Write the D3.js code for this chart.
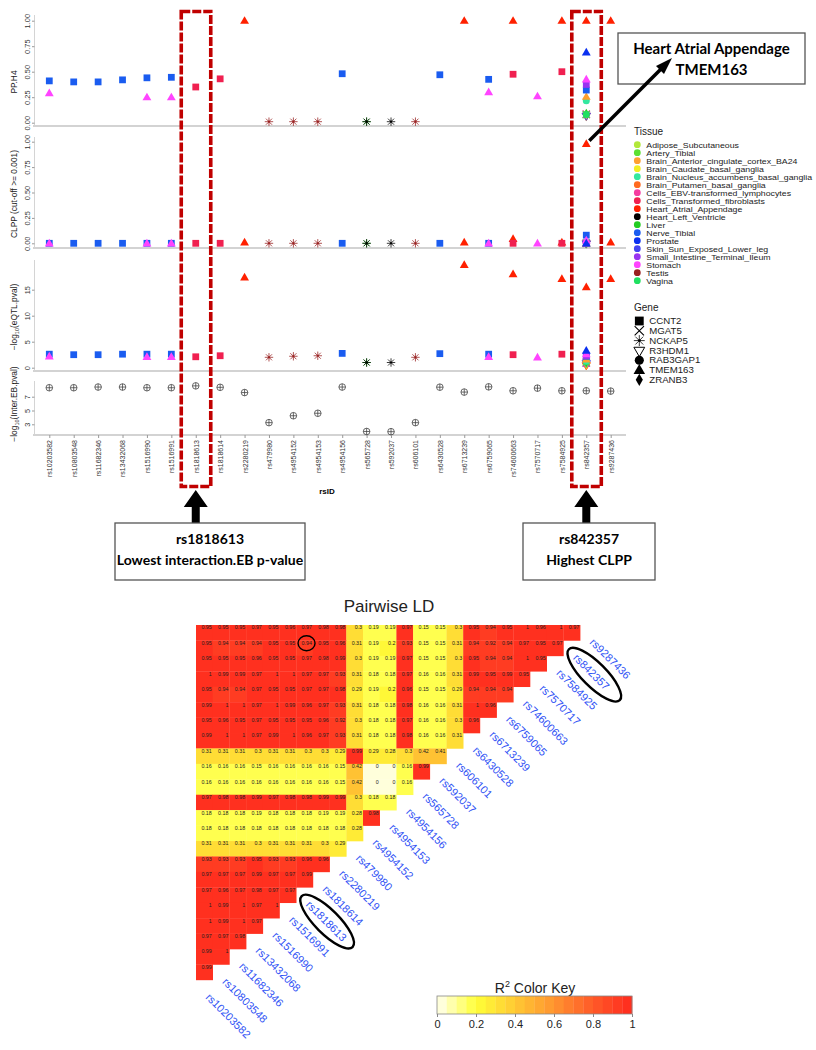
<!DOCTYPE html>
<html>
<head>
<meta charset="utf-8">
<script src="https://cdn.jsdelivr.net/npm/d3@7"></script>
<style>
body { margin: 0; background: #fff; }
text { font-family: "Liberation Sans", Arial, sans-serif; }
.note { font-family: Lato, "Open Sans", sans-serif; font-weight: bold; }
</style>
</head>
<body>
<svg id="chart" width="816" height="1050"></svg>
<script>
// ---- data ----
const snps = ["rs10203582","rs10803548","rs11682346","rs13432068","rs1516990","rs1516991",
  "rs1818613","rs1818614","rs2280219","rs479980","rs4954152","rs4954153","rs4954156",
  "rs565728","rs592037","rs606101","rs6430528","rs6713239","rs6759065","rs74600663",
  "rs7570717","rs7584925","rs842357","rs9287436"];

// -log10(Inter.EB.pval), one per SNP
const interEB = [8.3,8.3,8.4,8.4,8.3,8.3,8.57,8.36,7.6,3.24,4.24,4.6,8.4,1.96,1.93,
  3.24,8.38,7.67,8.43,7.86,8.24,7.86,7.86,7.81];

const tissues = ["Adipose_Subcutaneous","Artery_Tibial","Brain_Anterior_cingulate_cortex_BA24",
  "Brain_Caudate_basal_ganglia","Brain_Nucleus_accumbens_basal_ganglia","Brain_Putamen_basal_ganglia",
  "Cells_EBV-transformed_lymphocytes","Cells_Transformed_fibroblasts","Heart_Atrial_Appendage",
  "Heart_Left_Ventricle","Liver","Nerve_Tibial","Prostate","Skin_Sun_Exposed_Lower_leg",
  "Small_Intestine_Terminal_Ileum","Stomach","Testis","Vagina"];
const tissueColors = ["#b2e83a","#5ce032","#ffa030","#f2ee22","#33e8a0","#ff6a20",
  "#f53ca0","#f02050","#ff2000","#000000","#22cc22","#1a5cf0","#0a30f0","#4444f0",
  "#9933f0","#ff44ff","#992020","#20e060"];

const genes = ["CCNT2","MGAT5","NCKAP5","R3HDM1","RAB3GAP1","TMEM163","ZRANB3"];

// colocalisation results (one entry per SNP / tissue / gene)
const ptSnp = ["rs10203582","rs10203582","rs10803548","rs11682346","rs13432068","rs1516990","rs1516990",
  "rs1516991","rs1516991","rs1818613","rs1818614","rs2280219","rs479980","rs4954152","rs4954153",
  "rs4954156","rs565728","rs565728","rs592037","rs606101","rs6430528","rs6713239","rs6759065",
  "rs6759065","rs74600663","rs74600663","rs7570717","rs7584925","rs7584925","rs9287436",
  "rs842357","rs842357","rs842357","rs842357","rs842357","rs842357","rs842357","rs842357",
  "rs842357","rs842357","rs842357","rs842357","rs842357","rs842357","rs842357","rs842357"];
const ptTissue = ["Nerve_Tibial","Stomach","Nerve_Tibial","Nerve_Tibial","Nerve_Tibial","Nerve_Tibial","Stomach",
  "Nerve_Tibial","Stomach","Cells_Transformed_fibroblasts","Cells_Transformed_fibroblasts","Heart_Atrial_Appendage",
  "Testis","Testis","Testis","Nerve_Tibial","Liver","Heart_Left_Ventricle","Heart_Left_Ventricle","Testis",
  "Nerve_Tibial","Heart_Atrial_Appendage","Nerve_Tibial","Stomach","Heart_Atrial_Appendage",
  "Cells_Transformed_fibroblasts","Stomach","Heart_Atrial_Appendage","Cells_Transformed_fibroblasts",
  "Heart_Atrial_Appendage",
  "Brain_Caudate_basal_ganglia","Brain_Putamen_basal_ganglia","Skin_Sun_Exposed_Lower_leg",
  "Cells_EBV-transformed_lymphocytes","Small_Intestine_Terminal_Ileum","Artery_Tibial","Adipose_Subcutaneous",
  "Liver","Vagina","Brain_Nucleus_accumbens_basal_ganglia","Brain_Anterior_cingulate_cortex_BA24",
  "Nerve_Tibial","Small_Intestine_Terminal_Ileum","Stomach","Prostate","Heart_Atrial_Appendage"];
const ptGene = ["CCNT2","TMEM163","CCNT2","CCNT2","CCNT2","CCNT2","TMEM163","CCNT2","TMEM163","CCNT2",
  "CCNT2","TMEM163","NCKAP5","NCKAP5","NCKAP5","CCNT2","NCKAP5","NCKAP5","NCKAP5","NCKAP5","CCNT2",
  "TMEM163","CCNT2","TMEM163","TMEM163","CCNT2","TMEM163","TMEM163","CCNT2","TMEM163",
  "ZRANB3","R3HDM1","R3HDM1","MGAT5","MGAT5","MGAT5","ZRANB3","ZRANB3","RAB3GAP1","RAB3GAP1",
  "TMEM163","CCNT2","CCNT2","TMEM163","TMEM163","TMEM163"];
const ptPPH4 = [0.41,0.29,0.40,0.40,0.42,0.44,0.25,0.445,0.25,0.35,0.43,1.0,0.01,0.01,0.01,0.48,0.01,
  0.01,0.01,0.01,0.47,1.0,0.425,0.30,1.0,0.475,0.26,1.0,0.50,1.0,
  0.06,0.07,0.07,0.085,0.08,0.08,0.085,0.09,0.08,0.215,0.255,0.32,0.375,0.425,0.69,1.0];
const ptCLPP = [0,0,0,0,0,0,0,0,0,0,0,0.01,0,0,0,0,0,0,0,0,0,0.01,0,0,0.045,0,0,0.01,0,0.01,
  0,0,0,0,0,0,0,0,0.01,0,0,0.08,0,0.03,0,0.98];
const ptEQTL = [2.6,2.2,2.5,2.5,2.6,2.6,2.1,2.6,2.1,2.1,2.3,17.4,2.0,2.2,2.3,2.75,1.0,1.0,1.0,2.0,
  2.7,19.8,2.6,2.1,18.0,2.5,2.0,17.1,2.6,17.1,
  0.4,0.5,0.9,0.9,0.9,1.1,0.8,1.0,1.2,1.3,1.6,2.2,2.3,2.6,3.3,15.5];

const ppTicks = [0, 0.25, 0.5, 0.75, 1];
const clppTicks = [0, 0.25, 0.5, 0.75, 1];
const eqtlTicks = [0, 5, 10, 15];
const ebTicks = [3, 5, 7];

// pairwise LD (r^2), top row = rs9287436 vs rs10203582..rs842357, bottom row = rs10803548 vs rs10203582
const ldRows = [
  [0.95,0.95,0.95,0.97,0.95,0.96,0.97,0.98,0.98,0.3,0.19,0.19,0.97,0.15,0.15,0.3,0.95,0.94,0.95,1,0.96,1,0.97],
  [0.95,0.94,0.94,0.94,0.95,0.95,0.94,0.95,0.96,0.31,0.19,0.2,0.93,0.15,0.15,0.31,0.94,0.92,0.94,0.97,0.95,0.97],
  [0.95,0.95,0.95,0.96,0.95,0.95,0.97,0.98,0.99,0.3,0.19,0.19,0.97,0.15,0.15,0.3,0.95,0.94,0.94,1,0.95],
  [1,0.99,0.99,0.97,1,1,0.97,0.97,0.93,0.31,0.18,0.18,0.97,0.16,0.16,0.31,0.99,0.95,0.99,0.95],
  [0.95,0.94,0.94,0.97,0.95,0.95,0.97,0.97,0.98,0.29,0.19,0.2,0.96,0.15,0.15,0.29,0.94,0.94,0.94],
  [0.99,1,1,0.97,1,0.99,0.96,0.97,0.93,0.31,0.18,0.18,0.98,0.16,0.16,0.31,1,0.96],
  [0.95,0.96,0.95,0.97,0.95,0.95,0.95,0.96,0.92,0.3,0.18,0.18,0.97,0.16,0.16,0.3,0.96],
  [0.99,1,1,0.97,0.99,1,0.96,0.97,0.93,0.31,0.18,0.18,0.98,0.16,0.16,0.31],
  [0.31,0.31,0.31,0.3,0.31,0.31,0.3,0.3,0.29,0.99,0.29,0.28,0.3,0.42,0.41],
  [0.16,0.16,0.16,0.15,0.16,0.16,0.16,0.16,0.15,0.42,0,0,0.16,0.99],
  [0.16,0.16,0.16,0.16,0.16,0.16,0.16,0.16,0.15,0.42,0,0,0.16],
  [0.97,0.98,0.98,0.99,0.97,0.98,0.98,0.99,0.99,0.3,0.18,0.18],
  [0.18,0.18,0.18,0.19,0.18,0.18,0.18,0.19,0.19,0.28,0.98],
  [0.18,0.18,0.18,0.18,0.18,0.18,0.18,0.18,0.18,0.28],
  [0.31,0.31,0.31,0.3,0.31,0.31,0.31,0.3,0.29],
  [0.93,0.93,0.93,0.95,0.93,0.93,0.96,0.96],
  [0.97,0.97,0.97,0.99,0.97,0.97,0.99],
  [0.97,0.96,0.97,0.98,0.97,0.97],
  [1,0.99,1,0.97,1],
  [1,0.99,1,0.97],
  [0.97,0.97,0.98],
  [0.99,1],
  [0.99]
];
const keyTicks = [0, 0.2, 0.4, 0.6, 0.8, 1];

// ---- drawing ----
const svg = d3.select('#chart');
const color = d3.scaleOrdinal().domain(tissues).range(tissueColors);
const x = d3.scalePoint().domain(snps).range([49.3, 610.7]);

const pts = ptSnp.map((s, i) => ({snp: s, tissue: ptTissue[i], gene: ptGene[i],
  pp: ptPPH4[i], clpp: ptCLPP[i], eqtl: ptEQTL[i]}));

// draws one gene symbol at the origin of g
function shape(g, gene, col, k) {
  k = k || 1;
  if (gene === 'CCNT2') {
    g.append('path').attr('d', d3.symbol(d3.symbolSquare, 46 * k * k)).attr('fill', col);
  } else if (gene === 'TMEM163') {
    g.append('path').attr('d', d3.symbol(d3.symbolTriangle, 34 * k * k)).attr('fill', col)
      .attr('transform', 'translate(0,0.6)');
  } else if (gene === 'RAB3GAP1') {
    g.append('circle').attr('r', 3.5 * k).attr('fill', col);
  } else if (gene === 'ZRANB3') {
    g.append('path').attr('d', d3.symbol(d3.symbolDiamond, 26 * k * k)).attr('fill', col);
  } else if (gene === 'R3HDM1') {
    g.append('path').attr('d', d3.symbol(d3.symbolTriangle, 30 * k * k)).attr('fill', 'none')
      .attr('stroke', col).attr('stroke-width', 1).attr('transform', 'rotate(180)');
  } else if (gene === 'MGAT5') {
    const r = 3.6 * k;
    g.append('path').attr('d', `M${-r},${-r}L${r},${r}M${-r},${r}L${r},${-r}`)
      .attr('stroke', col).attr('stroke-width', 1.1);
  } else if (gene === 'NCKAP5') {
    const r = 4.2 * k, q = r * 0.72;
    g.append('path').attr('d', `M${-r},0L${r},0M0,${-r}L0,${r}M${-q},${-q}L${q},${q}M${-q},${q}L${q},${-q}`)
      .attr('stroke', col).attr('stroke-width', 0.9).attr('opacity', 0.85);
    g.append('circle').attr('r', 1.1 * k).attr('fill', col);
  }
}

const panels = [
  {key: 'pp', y: d3.scaleLinear().domain([0, 1]).range([122.7, 20.7]), top: 15, bottom: 126,
   ticks: ppTicks, fmt: d3.format('.2f'), ty: 82},
  {key: 'clpp', y: d3.scaleLinear().domain([0, 1]).range([243.3, 141.7]), top: 137, bottom: 248,
   ticks: clppTicks, fmt: d3.format('.2f'), ty: 194},
  {key: 'eqtl', y: d3.scaleLinear().domain([0, 15]).range([367.7, 289.7]), top: 260, bottom: 371,
   ticks: eqtlTicks, fmt: d3.format('d'), ty: 317},
  {key: 'eb', y: d3.scaleLinear().domain([3, 7]).range([424.3, 396.7]), top: 381, bottom: 435,
   ticks: ebTicks, fmt: d3.format('d'), ty: 404}
];

panels.forEach(p => {
  const g = svg.append('g');
  g.append('line').attr('x1', 33).attr('x2', 626).attr('y1', p.bottom).attr('y2', p.bottom)
    .attr('stroke', '#c4c4c4').attr('stroke-width', 1.3);
  g.append('line').attr('x1', 34.5).attr('x2', 34.5).attr('y1', p.top).attr('y2', p.bottom)
    .attr('stroke', '#d4d4d4').attr('stroke-width', 1);
  const ax = g.append('g').attr('transform', 'translate(34.5,0)')
    .call(d3.axisLeft(p.y).tickValues(p.ticks).tickSize(2.5).tickFormat(p.fmt));
  ax.select('.domain').remove();
  ax.selectAll('line').attr('stroke', '#999');
  ax.selectAll('text').attr('x', null).attr('dy', null).attr('text-anchor', 'middle')
    .attr('transform', 'translate(-4.5,0) rotate(-90)')
    .attr('font-size', 7.4).attr('fill', '#333')
    .attr('font-family', '"Liberation Sans", Arial, sans-serif');
});

// y titles
const yt = svg.append('g').attr('font-size', 8.4).attr('fill', '#222');
yt.append('text').attr('transform', 'translate(17,82) rotate(-90)').attr('text-anchor', 'middle').text('PP.H4');
yt.append('text').attr('transform', 'translate(17,194) rotate(-90)').attr('text-anchor', 'middle').text('CLPP (cut-off >= 0.001)');
const t3 = yt.append('text').attr('transform', 'translate(17,317) rotate(-90)').attr('text-anchor', 'middle');
t3.append('tspan').text('\u2212log');
t3.append('tspan').attr('font-size', 5.5).attr('dy', 2).text('10');
t3.append('tspan').attr('dy', -2).text('(eQTL.pval)');
const t4 = yt.append('text').attr('transform', 'translate(17,404) rotate(-90)').attr('text-anchor', 'middle');
t4.append('tspan').text('\u2212log');
t4.append('tspan').attr('font-size', 5.5).attr('dy', 2).text('10');
t4.append('tspan').attr('dy', -2).text('(Inter.EB.pval)');

// points in the three colocalisation panels
panels.slice(0, 3).forEach(p => {
  svg.append('g').selectAll('g').data(pts).join('g')
    .attr('transform', d => `translate(${x(d.snp)},${p.y(d[p.key])})`)
    .each(function(d) { shape(d3.select(this), d.gene, color(d.tissue)); });
});

// interaction p-values
const ebP = panels[3];
const eb = svg.append('g').selectAll('g').data(snps).join('g')
  .attr('transform', (d, i) => `translate(${x(d)},${ebP.y(interEB[i])})`)
  .attr('stroke', '#444').attr('stroke-width', 0.8).attr('fill', 'none');
eb.append('circle').attr('r', 3.3);
eb.append('path').attr('d', 'M-3.3,0H3.3M0,-3.3V3.3');

// x axis
const xa = svg.append('g').attr('transform', 'translate(0,435)')
  .call(d3.axisBottom(x).tickSize(3));
xa.select('.domain').remove();
xa.selectAll('line').attr('stroke', '#999');
xa.selectAll('text').attr('y', null).attr('dy', '0.35em').attr('text-anchor', 'end')
  .attr('transform', 'translate(0,5) rotate(-90)').attr('font-size', 7)
  .attr('fill', '#333').attr('font-family', '"Liberation Sans", Arial, sans-serif');
svg.append('text').attr('x', 327).attr('y', 494).attr('text-anchor', 'middle')
  .attr('font-size', 8).attr('font-weight', 'bold').text('rsID');

// legend (labels are set tight, as in the original figure)
const lg = svg.append('g');
lg.append('text').attr('x', 634).attr('y', 135).attr('font-size', 10).attr('fill', '#222').text('Tissue');
const li = lg.selectAll('g.t').data(tissues).join('g').attr('class', 't')
  .attr('transform', (d, i) => `translate(637.3,${144.7 + i * 8})`);
li.append('circle').attr('r', 3.4).attr('fill', d => color(d));
li.append('text').attr('transform', 'translate(9,2.8) scale(1.17,1)')
  .attr('font-size', 7.5).attr('fill', '#222').text(d => d);
lg.append('text').attr('x', 634).attr('y', 311).attr('font-size', 10).attr('fill', '#222').text('Gene');
const gi = lg.selectAll('g.g').data(genes).join('g').attr('class', 'g')
  .attr('transform', (d, i) => `translate(639.3,${321 + i * 9.8})`);
gi.each(function(d) { shape(d3.select(this), d, '#000', 1.3); });
gi.append('text').attr('transform', 'translate(10,3.2) scale(1.15,1)')
  .attr('font-size', 8.4).attr('fill', '#222').text(d => d);

// highlight rectangles and annotations
['rs1818613', 'rs842357'].forEach(s => {
  svg.append('rect').attr('x', x(s) - 14.5).attr('y', 11.5).attr('width', 29.5).attr('height', 475)
    .attr('fill', 'none').attr('stroke', '#c00000').attr('stroke-width', 3.6)
    .attr('stroke-dasharray', '9,2');
  const cx = x(s);
  svg.append('path')
    .attr('d', `M${cx},490L${cx + 12},507H${cx + 4}V523H${cx - 4}V507H${cx - 12}Z`)
    .attr('fill', '#000');
});

function noteBox(x0, y0, w, h, lines, fs) {
  svg.append('rect').attr('x', x0).attr('y', y0).attr('width', w).attr('height', h)
    .attr('fill', '#fff').attr('stroke', '#555').attr('stroke-width', 1.3);
  lines.forEach((t, i) => {
    svg.append('text').attr('class', 'note').attr('x', x0 + w / 2).attr('y', y0 + 21 + i * 21)
      .attr('text-anchor', 'middle').attr('font-size', fs).attr('fill', '#000').text(t);
  });
}
noteBox(115, 523, 190, 57, ['rs1818613', 'Lowest interaction.EB p-value'], 14);
noteBox(523, 523, 132, 57, ['rs842357', 'Highest CLPP'], 14);
noteBox(618, 33, 187, 51, ['Heart Atrial Appendage', 'TMEM163'], 15);

// arrow from the highest CLPP point to its note
const hp = pts.find(d => d.snp === 'rs842357' && d.tissue === 'Heart_Atrial_Appendage');
const ax0 = x(hp.snp) + 3, ay0 = panels[1].y(hp.clpp) - 3;
svg.append('line').attr('x1', ax0).attr('y1', ay0).attr('x2', 664).attr('y2', 66)
  .attr('stroke', '#000').attr('stroke-width', 3.5);
svg.append('path').attr('d', 'M672,58L656,66L664,74Z').attr('fill', '#000');

// ---- Pairwise LD ----
const cw = 16.7, ch = 15.43;
const col = d3.scaleBand().domain(snps).range([196, 196 + cw * snps.length]);
const row = d3.scaleBand().domain(snps.slice().reverse()).range([625, 625 + ch * snps.length]);
const ldColor = d3.scaleLinear().domain([0, 0.2, 0.4, 0.6, 0.8, 1])
  .range(['#fffff2', '#ffff38', '#ffc933', '#ff9430', '#ff5a28', '#ff2a1e']);
const binned = v => ldColor(Math.min(19, Math.floor(v * 20)) / 20 + 0.025);

svg.append('text').attr('x', 389).attr('y', 612).attr('text-anchor', 'middle')
  .attr('font-size', 17).attr('fill', '#222').text('Pairwise LD');

const cells = [];
ldRows.forEach((r, ri) => r.forEach((v, ci) => cells.push({a: snps[23 - ri], b: snps[ci], v})));
const ld = svg.append('g');
ld.selectAll('rect').data(cells).join('rect')
  .attr('x', d => col(d.b)).attr('y', d => row(d.a))
  .attr('width', cw + 0.3).attr('height', ch + 0.3)
  .attr('fill', d => binned(d.v));
ld.selectAll('text').data(cells).join('text')
  .attr('x', d => col(d.b) + cw - 1).attr('y', d => row(d.a) + 4.4)
  .attr('text-anchor', 'end').attr('font-size', 5.3).attr('fill', '#222')
  .text(d => String(d.v));

// diagonal SNP labels
const lab = svg.append('g');
lab.selectAll('text').data(snps).join('text')
  .attr('transform', d => `translate(${col(d) + 9},${row(d) + 18}) rotate(45)`)
  .attr('font-size', 11).attr('fill', '#2f52f5').text(d => d);

// marks around the two highlighted SNPs
['rs1818613', 'rs842357'].forEach(s => {
  svg.append('ellipse').attr('cx', 0).attr('cy', 0).attr('rx', 36).attr('ry', 12)
    .attr('transform', `translate(${col(s) + 9},${row(s) + 18}) rotate(45) translate(27,-4)`)
    .attr('fill', 'none').attr('stroke', '#000').attr('stroke-width', 2.4);
});
svg.append('ellipse').attr('cx', col('rs1818613') + cw / 2 + 2).attr('cy', row('rs842357') + 2.8)
  .attr('rx', 8.5).attr('ry', 7.5).attr('fill', 'none').attr('stroke', '#000').attr('stroke-width', 1.4);

// colour key
const kx = d3.scaleLinear().domain([0, 1]).range([437, 632]);
svg.append('text').attr('x', 535).attr('y', 993).attr('text-anchor', 'middle')
  .attr('font-size', 14).attr('fill', '#222')
  .call(t => { t.append('tspan').text('R');
    t.append('tspan').attr('font-size', 9).attr('dy', -6).text('2');
    t.append('tspan').attr('dy', 6).text(' Color Key'); });
svg.append('g').selectAll('rect').data(d3.range(20)).join('rect')
  .attr('x', i => kx(i / 20)).attr('y', 996).attr('width', kx(0.05) - kx(0) + 0.3).attr('height', 18)
  .attr('fill', i => ldColor(i / 20 + 0.025));
svg.append('rect').attr('x', kx(0)).attr('y', 996).attr('width', kx(1) - kx(0)).attr('height', 18)
  .attr('fill', 'none').attr('stroke', '#888').attr('stroke-width', 0.8);
const ka = svg.append('g').attr('transform', 'translate(0,1014)')
  .call(d3.axisBottom(kx).tickValues(keyTicks).tickSize(3).tickFormat(d3.format('')));
ka.select('.domain').remove();
ka.selectAll('line').attr('stroke', '#888');
ka.selectAll('text').attr('font-size', 11).attr('fill', '#222')
  .attr('font-family', '"Liberation Sans", Arial, sans-serif');
</script>
</body>
</html>
